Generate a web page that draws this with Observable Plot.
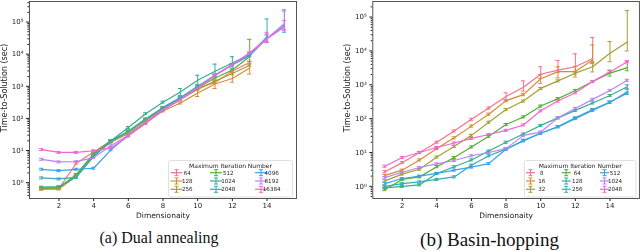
<!DOCTYPE html>
<html><head><meta charset="utf-8">
<script src="https://cdn.jsdelivr.net/npm/d3@7"></script>
<script src="https://cdn.jsdelivr.net/npm/@observablehq/plot@0.6"></script>
<style>
body{margin:0;background:#fff;}
#wrap{position:relative;width:640px;height:252px;overflow:hidden;background:#fff;}
.panel{position:absolute;top:0;will-change:transform;}
.cap{position:absolute;top:230px;font-family:"Liberation Serif",serif;white-space:nowrap;transform:translateX(-50%);color:#111;}
</style></head><body><div id="wrap"></div>
<script>
// ---------- shared ----------
const dims = [1,2,3,4,5,6,7,8,9,10,11,12,13,14,15];
const xTicks = [2,4,6,8,10,12,14];
const palette = ["#f77189","#d58c32","#a4a031","#50b131","#34ae91","#37abb5","#3ba3ec","#bb83f4","#f564d4"];
const capSpread = 0.03; // small log10 half-width of tight error bars

// ---------- (a) Dual annealing ----------
const daSeries = ["64","128","256","512","1024","2048","4096","8192","16384"];
const da64    = [0.65,0.66,4.0,9.0,20,38,90,200,400,900,1300,3000,5500];
const da128   = [0.62,0.63,1.6,7.0,18,34,75,170,300,620,1180,1750,3700];
const da256   = [0.65,0.67,1.7,7.5,19,37,85,195,390,800,1450,2500,4500];
const da512   = [0.68,0.70,1.8,8.0,20,40,95,210,420,900,1800,3200,8500];
const da1024  = [0.72,0.75,1.5,6.5,20,52,140,320,660,1550,2950,5300,9500];
const da2048  = [1.4,1.3,1.45,7.0,19,40,95,220,450,1000,2200,4600,9500,35000];
const da4096  = [2.6,2.35,2.6,2.8,10.5,30,70,190,400,900,2200,4700,9000,31000,78000];
const da8192  = [5.3,4.4,4.5,6.0,14,30,75,190,400,900,2200,4700,10500,31000,90000];
const da16384 = [10.7,8.7,8.7,9.8,12,28,70,180,380,880,2200,4800,11000,30000,70000];
const daValues = [da64,da128,da256,da512,da1024,da2048,da4096,da8192,da16384];
// visible wide error bars: [series, dimension, low, high]
const daErr = [
  ["1024",9,520,850],["1024",10,1140,2200],["1024",11,2400,4900],["1024",12,3700,8300],
  ["128",10,480,800],["128",11,850,1500],["128",12,1340,2300],["128",13,2400,6000],
  ["512",13,6000,29000],["2048",14,23000,125000],
  ["4096",14,24000,40000],["8192",14,24000,42000],["16384",14,23000,48000],
  ["4096",15,48000,240000],["8192",15,54000,220000],["16384",15,60000,110000]
];

// ---------- (b) Basin-hopping ----------
const bhSeries = ["8","16","32","64","128","256","512","1024","2048"];
const bh8    = [2.7,5.0,10,20,43,95,205,450,850,2050,2700,3400,6000];
const bh16   = [2.1,3.0,6.0,13,27,60,135,340,510,1500,2450,2450,5400];
const bh32   = [1.45,2.3,3.2,7.3,15,32,78,185,330,780,1300,2200,3400,8500,18500];
const bh64   = [0.8,1.6,1.9,3.8,7.1,14.5,30,67,112,235,390,680,1250,2200,3200];
const bh128  = [0.9,1.0,1.1,2.4,3.8,6.0,11,20,35,63,105,175,290,480,870];
const bh256  = [1.0,1.2,1.35,1.6,1.9,4.2,8.0,12.5,22,37,58,105,185,310,560];
const bh512  = [1.2,1.7,2.0,2.4,3.0,3.7,4.7,12.5,23,37,57,100,175,300,620];
const bh1024 = [1.8,2.6,3.6,4.6,5.8,8.0,10,13,32,40,105,200,370,680,1350];
const bh2048 = [3.9,7.1,10,14,19,26,34,45,65,170,330,580,1250,2400,4800];
const bhValues = [bh8,bh16,bh32,bh64,bh128,bh256,bh512,bh1024,bh2048];
const bhErr = [
  ["8",8,350,580],["8",9,650,1300],["8",10,1550,3400],["8",11,2300,5200],["8",12,2500,8200],["8",13,4500,25000],
  ["16",10,1100,2000],["16",11,1600,3400],["16",12,1700,3500],["16",13,4200,15000],
  ["32",13,2400,4800],["32",14,4800,19000],["32",15,10000,155000],
  ["64",14,1800,2700],["64",15,2600,5000],["128",15,750,1000],["512",15,520,750]
];

const legendTitle = "Maximum Iteration Number";
const sup = {"0":"⁰","1":"¹","2":"²","3":"³","4":"⁴","5":"⁵"};
const yMajor = [1,10,100,1000,10000,100000];
const fmtY = d => "10" + sup[String(Math.round(Math.log10(d)))];

function panel(opts) {
  const {names, values, errs, yDomain, width, mL, mR, leg} = opts;
  const rows = [];
  names.forEach((n, i) => values[i].forEach((v, j) => {
    const x = dims[j];
    const e = errs.find(r => r[0] === n && r[1] === x);
    rows.push({s: n, x, y: v,
      lo: e ? e[2] : v * Math.pow(10, -capSpread),
      hi: e ? e[3] : v * Math.pow(10, capSpread)});
  }));
  const minor = [];
  for (let e = -1; e <= 5; e++) for (let m = 2; m <= 9; m++) {
    const v = m * Math.pow(10, e);
    if (v > yDomain[0] && v < yDomain[1]) minor.push(v);
  }
  const capW = 0.12;
  const svg = Plot.plot({
    width, height: 224, marginLeft: mL, marginRight: mR, marginTop: 1, marginBottom: 26,
    style: {fontFamily: "DejaVu Sans", fontSize: "7px", color: "#222", background: "transparent", overflow: "visible"},
    x: {domain: [0.3, 15.7]},
    y: {type: "log", domain: yDomain},
    color: {domain: names, range: palette},
    marks: [
      Plot.axisY({ticks: minor, tickSize: 1.6, tickFormat: () => "", label: null}),
      Plot.axisY({ticks: yMajor, tickSize: 3, tickPadding: 3, tickFormat: fmtY, label: null, fontSize: 7}),
      Plot.axisX({ticks: xTicks, tickSize: 3, tickPadding: 2, label: null, fontSize: 7}),
      Plot.ruleX(rows, {x: "x", y1: "lo", y2: "hi", stroke: "s", strokeWidth: 1}),
      Plot.ruleY(rows, {y: "lo", x1: d => d.x - capW, x2: d => d.x + capW, stroke: "s", strokeWidth: 1}),
      Plot.ruleY(rows, {y: "hi", x1: d => d.x - capW, x2: d => d.x + capW, stroke: "s", strokeWidth: 1}),
      Plot.line(rows, {x: "x", y: "y", z: "s", stroke: "s", strokeWidth: 1.2}),
      Plot.frame({stroke: "#444", strokeWidth: 0.9}),
      Plot.text(["Dimensionaity"], {text: d => d, frameAnchor: "bottom", dy: 19, fontSize: 7.5, fill: "#222"}),
      Plot.text(["Time-to-Solution (sec)"], {text: d => d, frameAnchor: "left", rotate: -90, textAnchor: "middle", dx: -25, dy: -12, fontSize: 8, fill: "#222"})
    ]
  });
  // legend (matplotlib style, 3 columns, column-major)
  const g = d3.select(svg).append("g").attr("font-family", "DejaVu Sans");
  g.append("rect").attr("x", leg.x).attr("y", leg.y).attr("width", leg.w).attr("height", leg.h)
    .attr("rx", 2).attr("fill", "#fff").attr("fill-opacity", 0.85).attr("stroke", "#d2d2d2").attr("stroke-width", 0.7);
  g.append("text").attr("x", leg.x + leg.w / 2).attr("y", leg.y + 7).attr("text-anchor", "middle")
    .attr("font-size", 6).attr("fill", "#222").text(legendTitle);
  names.forEach((n, i) => {
    const col = Math.floor(i / 3), row = i % 3;
    const cy = leg.rows[row], hx = leg.hx[col], c = palette[i];
    const mx = hx + leg.hw / 2;
    g.append("line").attr("x1", hx).attr("x2", hx + leg.hw).attr("y1", cy).attr("y2", cy).attr("stroke", c).attr("stroke-width", 1.2);
    g.append("line").attr("x1", mx).attr("x2", mx).attr("y1", cy - 3).attr("y2", cy + 3).attr("stroke", c).attr("stroke-width", 1);
    g.append("line").attr("x1", mx - 2).attr("x2", mx + 2).attr("y1", cy - 3).attr("y2", cy - 3).attr("stroke", c).attr("stroke-width", 1);
    g.append("line").attr("x1", mx - 2).attr("x2", mx + 2).attr("y1", cy + 3).attr("y2", cy + 3).attr("stroke", c).attr("stroke-width", 1);
    g.append("text").attr("x", leg.lx[col]).attr("y", cy + 2).attr("font-size", 5.6).attr("fill", "#222").text(n);
  });
  return svg;
}

const wrap = document.getElementById("wrap");
const left = panel({names: daSeries, values: daValues, errs: daErr,
  yDomain: [Math.pow(10, -0.495), Math.pow(10, 5.64)], width: 320, mL: 29, mR: 24,
  leg: {x: 168.5, y: 160.5, w: 124, h: 36.5, rows: [172.7, 181, 189.3], hx: [170.5, 210, 255], hw: 12, lx: [187.3, 228.3, 271.7]}});
left.classList.add("panel"); left.style.left = "0px";
wrap.appendChild(left);

const right = panel({names: bhSeries, values: bhValues, errs: bhErr,
  yDomain: [Math.pow(10, -0.36), Math.pow(10, 5.46)], width: 330, mL: 52.3, mR: 11.1,
  leg: {x: 204.3, y: 160.5, w: 111.7, h: 36.5, rows: [172.7, 181, 189.3], hx: [206, 241.7, 280], hw: 9, lx: [221.7, 257.3, 295]}});
right.classList.add("panel"); right.style.left = "320px";
wrap.appendChild(right);

const c1 = document.createElement("div"); c1.className = "cap"; c1.style.left = "159px";
c1.style.fontSize = "16px"; c1.style.lineHeight = "16px"; c1.textContent = "(a) Dual annealing"; wrap.appendChild(c1);
const c2 = document.createElement("div"); c2.className = "cap"; c2.style.left = "489.5px";
c2.style.fontSize = "19px"; c2.style.lineHeight = "19px"; c2.textContent = "(b) Basin-hopping"; wrap.appendChild(c2);
</script>
</body></html>
